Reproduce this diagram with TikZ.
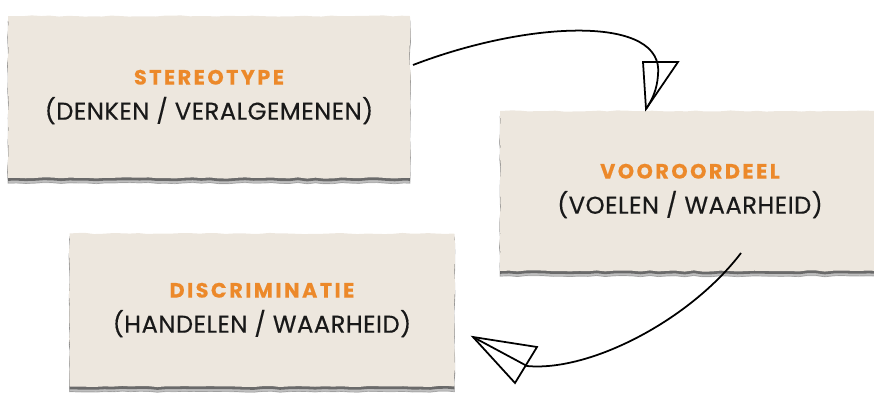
\documentclass[tikz,border=0pt]{standalone}
\usepackage{fontspec}
\setmainfont{Poppins}
\usetikzlibrary{decorations.pathmorphing,shadows}
\definecolor{paper}{RGB}{237,231,222}
\definecolor{titleorange}{RGB}{236,137,42}
\definecolor{ink}{RGB}{25,25,25}
\newcommand{\papertitle}[1]{{\fontsize{11.8}{19}\selectfont\bfseries\addfontfeature{LetterSpace=12}\color{titleorange}#1}}

\begin{document}
\begin{tikzpicture}[x=0.02cm, y=-0.02cm,
  paperbox/.style={fill=paper, align=center, inner sep=0pt, text=ink,
    font=\fontsize{13.8}{20}\selectfont\addfontfeature{FakeBold=0.4,LetterSpace=2},
    decorate, decoration={random steps, segment length=5pt, amplitude=0.35pt},
    copy shadow={shadow xshift=0pt, shadow yshift=-3pt, opacity=0.25, fill=black},
    drop shadow={shadow xshift=0pt, shadow yshift=-1.6pt, opacity=0.6, fill=black!80}},
  arrowline/.style={line width=1pt, black, line join=miter}]

\pgfmathsetseed{7}
\useasboundingbox (0,0) rectangle (874,394);

% Papers
\node[paperbox, minimum width=8.04cm, minimum height=3.24cm] (stereo) at (209,97)
  {\papertitle{STEREOTYPE}\\(DENKEN / VERALGEMENEN)};
\node[paperbox, minimum width=7.6cm, minimum height=3.2cm] (vooroordeel) at (690,191)
  {\papertitle{VOOROORDEEL}\\(VOELEN / WAARHEID)};
\node[paperbox, minimum width=7.7cm, minimum height=3.06cm] (discriminatie) at (262,310)
  {\papertitle{DISCRIMINATIE}\\(HANDELEN / WAARHEID)};

% Arrow: stereotype -> vooroordeel
\coordinate (s1) at (413,65);
\coordinate (t1) at (646,109);
\draw[arrowline] (s1) .. controls (530,20) and (665,15) .. (658,75)
  .. controls (657,90) and (652,100) .. (t1);
\draw[arrowline] (t1) -- (643,62) -- (678,62) -- cycle;

% Arrow: vooroordeel -> discriminatie
\coordinate (s2) at (741,253);
\coordinate (t2) at (473,337);
\draw[arrowline] (s2) .. controls (690,320) and (590,372) .. (527,366) -- (t2);
\draw[arrowline] (t2) -- (537,347) -- (515,383) -- cycle;

\end{tikzpicture}
\end{document}
